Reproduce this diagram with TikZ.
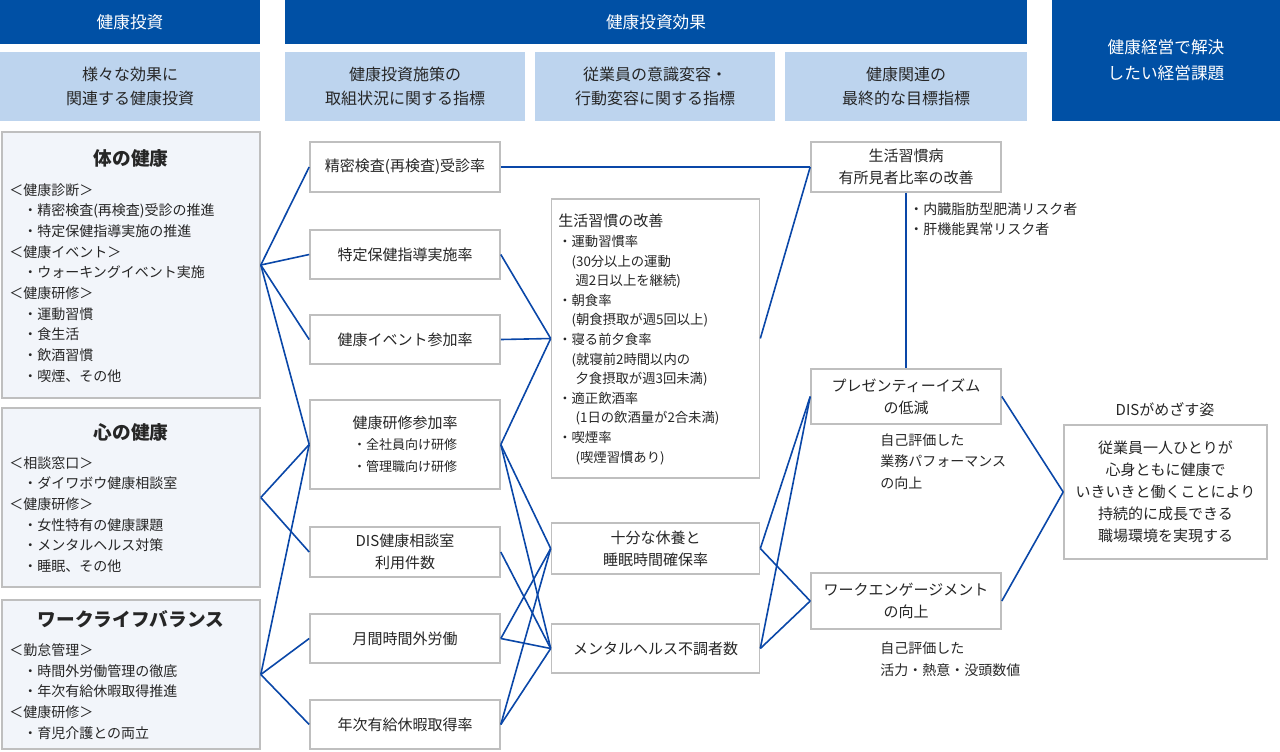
\documentclass[tikz,border=0pt]{standalone}
\usepackage{fontspec}
\setmainfont{Noto Sans CJK JP}
\usepackage{tikz}
\usetikzlibrary{positioning}

\definecolor{headblue}{HTML}{0050A5}
\definecolor{subblue}{HTML}{BDD4EE}
\definecolor{groupfill}{HTML}{F2F5FA}
\definecolor{boxgray}{HTML}{BFBFBF}
\definecolor{linkblue}{HTML}{0A47A8}
\definecolor{textgray}{HTML}{262626}

\begin{document}
\begin{tikzpicture}[x=0.75pt, y=-0.75pt,
    head/.style={fill=headblue, text=white, inner sep=0pt, align=center,
      font=\fontsize{12.5}{19.5}\selectfont},
    sub/.style={fill=subblue, text=textgray, inner sep=0pt, align=center,
      minimum height=51.75pt, font=\fontsize{12}{18}\selectfont},
    group/.style={draw=boxgray, fill=groupfill, line width=1.2pt, inner sep=0pt,
      minimum width=193.5pt},
    grouptitle/.style={text=textgray, inner sep=0pt, font=\fontsize{14}{17}\selectfont\bfseries},
    list/.style={text=textgray, inner sep=0pt, align=left, anchor=west,
      font=\fontsize{10.5}{15.5}\selectfont},
    ind/.style={draw=boxgray, fill=white, line width=1.2pt, text=textgray, inner sep=0pt,
      align=center, font=\fontsize{11.25}{16.5}\selectfont},
    note/.style={text=textgray, inner sep=0pt, align=left, anchor=west,
      font=\fontsize{10.5}{16}\selectfont},
    link/.style={draw=linkblue, line width=1.2pt}]

  \useasboundingbox (0,0) rectangle (1280,751);

  % Draw the headers
  \node[head, minimum width=195pt, minimum height=33pt] (hInv) at (130,22) {健康投資};
  \node[head, minimum width=556.5pt, minimum height=33pt] (hEff) at (656,22) {健康投資効果};
  \node[head, minimum width=171pt, minimum height=90.75pt] (hIssue) at (1166,60.5)
    {健康経営で解決\\したい経営課題};
  \node[sub, minimum width=195pt] (sInv) at (130,86.5) {様々な効果に\\関連する健康投資};
  \node[sub, minimum width=180pt] (sAct) at (405,86.5) {健康投資施策の\\取組状況に関する指標};
  \node[sub, minimum width=180pt] (sBeh) at (655,86.5) {従業員の意識変容・\\行動変容に関する指標};
  \node[sub, minimum width=181.5pt] (sGoal) at (906,86.5) {健康関連の\\最終的な目標指標};

  % Draw the investment groups
  \node[group, minimum height=199.5pt] (body) at (131,265) {};
  \node[grouptitle] (bodyT) at (131,158) {体の健康};
  \node[list] (bodyL) at (9,283)
    {＜健康診断＞\\\quad・精密検査(再検査)受診の推進\\\quad・特定保健指導実施の推進\\
     ＜健康イベント＞\\\quad・ウォーキングイベント実施\\＜健康研修＞\\
     \quad・運動習慣\\\quad・食生活\\\quad・飲酒習慣\\\quad・喫煙、その他};

  \node[group, minimum height=134.25pt] (mind) at (131,497.5) {};
  \node[grouptitle] (mindT) at (131,432) {心の健康};
  \node[list] (mindL) at (9,514.5)
    {＜相談窓口＞\\\quad・ダイワボウ健康相談室\\＜健康研修＞\\
     \quad・女性特有の健康課題\\\quad・メンタルヘルス対策\\\quad・睡眠、その他};

  \node[group, minimum height=111.75pt] (wlb) at (131,674.5) {};
  \node[grouptitle] (wlbT) at (131,619) {ワークライフバランス};
  \node[list] (wlbL) at (9,691.5)
    {＜勤怠管理＞\\\quad・時間外労働管理の徹底\\\quad・年次有給休暇取得推進\\
     ＜健康研修＞\\\quad・育児介護との両立};

  % Draw the activity indicators
  \node[ind, minimum width=142.5pt, minimum height=37.5pt] (kensa) at (405,167) {精密検査(再検査)受診率};
  \node[ind, minimum width=142.5pt, minimum height=36.75pt] (tokutei) at (405,254.5) {特定保健指導実施率};
  \node[ind, minimum width=142.5pt, minimum height=36.75pt] (event) at (405,339.5) {健康イベント参加率};
  \node[ind, minimum width=142.5pt, minimum height=66.75pt] (kenshu) at (405,444.5)
    {健康研修参加率\\[-1pt]{\fontsize{9.75}{15}\selectfont ・全社員向け研修}\\
     {\fontsize{9.75}{15}\selectfont ・管理職向け研修}};
  \node[ind, minimum width=142.5pt, minimum height=37.5pt] (dis) at (405,552) {DIS健康相談室\\利用件数};
  \node[ind, minimum width=142.5pt, minimum height=36.75pt] (overtime) at (405,638.5) {月間時間外労働};
  \node[ind, minimum width=142.5pt, minimum height=36.75pt] (leave) at (405,724.5) {年次有給休暇取得率};

  % Draw the behaviour indicators
  \node[ind, minimum width=156pt, minimum height=209.25pt] (habit) at (655.5,338.5) {};
  \node[list, font=\fontsize{10}{14.7}\selectfont] (habitL) at (558,339.5)
    {{\fontsize{11.25}{14.7}\selectfont 生活習慣の改善}\\・運動習慣率\\
     \hspace{1em}(30分以上の運動\\\hspace{1.3em}週2日以上を継続)\\
     ・朝食率\\\hspace{1em}(朝食摂取が週5回以上)\\
     ・寝る前夕食率\\\hspace{1em}(就寝前2時間以内の\\\hspace{1.3em}夕食摂取が週3回未満)\\
     ・適正飲酒率\\\hspace{1.3em}(1日の飲酒量が2合未満)\\
     ・喫煙率\\\hspace{1.3em}(喫煙習慣あり)};
  \node[ind, minimum width=156pt, minimum height=38.25pt] (rest) at (655.5,548.5) {十分な休養と\\睡眠時間確保率};
  \node[ind, minimum width=156pt, minimum height=36.75pt] (mental) at (655.5,648.5) {メンタルヘルス不調者数};

  % Draw the goal indicators
  \node[ind, minimum width=142.5pt, minimum height=37.5pt] (disease) at (906,167) {生活習慣病\\有所見者比率の改善};
  \node[ind, minimum width=142.5pt, minimum height=41.25pt] (presen) at (906,396.5) {プレゼンティーイズム\\の低減};
  \node[ind, minimum width=142.5pt, minimum height=42pt] (engage) at (906,601) {ワークエンゲージメント\\の向上};

  % Draw the target
  \node[ind, minimum width=152.25pt, minimum height=100.5pt] (vision) at (1165.5,492)
    {従業員一人ひとりが\\心身ともに健康で\\いきいきと働くことにより\\持続的に成長できる\\職場環境を実現する};
  \node[text=textgray, font=\fontsize{11.25}{16}\selectfont] (visionT) at (1165,410) {DISがめざす姿};

  % Draw the notes
  \node[note, font=\fontsize{10.5}{15.4}\selectfont] (riskN) at (909,219) {・内臓脂肪型肥満リスク者\\・肝機能異常リスク者};
  \node[note] (presN) at (880,461.5) {自己評価した\\業務パフォーマンス\\の向上};
  \node[note, font=\fontsize{10.5}{16.5}\selectfont] (engN) at (880,659) {自己評価した\\活力・熱意・没頭数値};

  % Draw the links
  \foreach \dst in {kensa, tokutei, event, kenshu}
    \draw[link] (body.east) -- (\dst.west);
  \foreach \dst in {kenshu, dis}
    \draw[link] (mind.east) -- (\dst.west);
  \foreach \dst in {kenshu, overtime, leave}
    \draw[link] (wlb.east) -- (\dst.west);

  \draw[link] (kensa.east) -- (disease.west);
  \foreach \src in {tokutei, event, kenshu}
    \draw[link] (\src.east) -- (habit.west);
  \foreach \src in {kenshu, overtime, leave}
    \draw[link] (\src.east) -- (rest.west);
  \foreach \src in {kenshu, dis, overtime, leave}
    \draw[link] (\src.east) -- (mental.west);

  \draw[link] (habit.east) -- (disease.west);
  \foreach \src in {rest, mental} {
    \draw[link] (\src.east) -- (presen.west);
    \draw[link] (\src.east) -- (engage.west);
  }
  \draw[link] (disease.south) -- (presen.north);
  \draw[link] (presen.east) -- (vision.west);
  \draw[link] (engage.east) -- (vision.west);
\end{tikzpicture}
\end{document}
